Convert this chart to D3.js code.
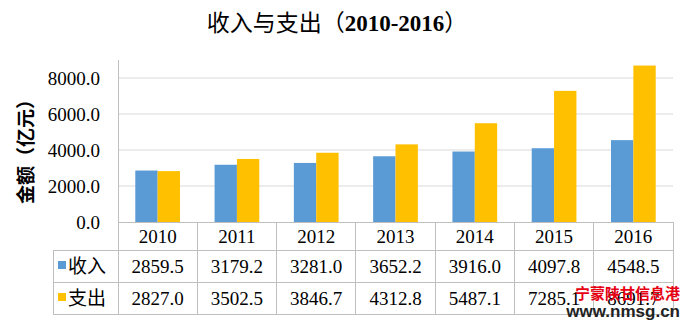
<!DOCTYPE html>
<html>
<head>
<meta charset="utf-8">
<script src="https://cdn.jsdelivr.net/npm/d3@7/dist/d3.min.js"></script>
<style>
  html, body { margin: 0; padding: 0; background: #fff; }
  svg { display: block; }
</style>
</head>
<body>
<svg id="chart" width="686" height="322"></svg>
<script>
// Fiscal income and expenditure, 2010-2016 (亿元)
const years = ["2010", "2011", "2012", "2013", "2014", "2015", "2016"];
const income = [2859.5, 3179.2, 3281.0, 3652.2, 3916.0, 4097.8, 4548.5];
const expense = [2827.0, 3502.5, 3846.7, 4312.8, 5487.1, 7285.1, 8691.7];
const seriesNames = ["收入", "支出"];
const seriesColors = ["#5B9BD5", "#FFC000"];
const yTicks = [0, 2000, 4000, 6000, 8000];

const svg = d3.select("#chart");
const serif = "Liberation Serif";
const cjk = "Noto Sans CJK SC";

const plotLeft = 118, plotRight = 673, plotTop = 60, baseY = 222;
const rowLines = [222, 250, 282, 314];
const tableLeft = 53;

const x = d3.scaleBand().domain(years).range([plotLeft, plotRight]).padding(0);
const y = d3.scaleLinear().domain([0, 9000]).range([baseY, plotTop]);
const barW = x.bandwidth() * 0.282;
const fmt = d3.format(".1f");

// title
svg.append("text")
  .attr("x", 337).attr("y", 31)
  .attr("text-anchor", "middle")
  .attr("font-size", 23)
  .call(t => {
    t.append("tspan").attr("font-family", cjk).text("收入与支出（");
    t.append("tspan").attr("font-family", serif).attr("font-weight", "bold").text("2010-2016");
    t.append("tspan").attr("font-family", cjk).text("）");
  });

// horizontal gridlines
svg.append("g")
  .selectAll("line")
  .data(yTicks.filter(d => d > 0))
  .join("line")
  .attr("x1", plotLeft).attr("x2", plotRight)
  .attr("y1", d => y(d)).attr("y2", d => y(d))
  .attr("stroke", "#d9d9d9").attr("stroke-width", 1);

// y tick labels
svg.append("g")
  .selectAll("text")
  .data(yTicks)
  .join("text")
  .attr("x", plotLeft - 18)
  .attr("y", d => y(d) + 7)
  .attr("text-anchor", "end")
  .attr("font-family", serif).attr("font-size", 19).attr("fill", "#000")
  .text(fmt);

// y axis title
svg.append("text")
  .attr("transform", `translate(33,${(plotTop + baseY) / 2 + 6}) rotate(-90)`)
  .attr("text-anchor", "middle")
  .attr("font-family", cjk).attr("font-weight", "bold").attr("font-size", 19)
  .text("金额（亿元）");

// bars
const series = [income, expense];
series.forEach((vals, si) => {
  svg.append("g")
    .selectAll("rect")
    .data(vals)
    .join("rect")
    .attr("x", (d, i) => x(years[i]) + x.bandwidth() / 2 - barW + si * barW)
    .attr("width", barW)
    .attr("y", d => y(d))
    .attr("height", d => baseY - y(d))
    .attr("fill", seriesColors[si]);
});

// data table grid
const grid = svg.append("g").attr("stroke", "#bfbfbf").attr("stroke-width", 1).attr("shape-rendering", "crispEdges");
grid.append("line").attr("x1", plotLeft).attr("x2", plotRight).attr("y1", rowLines[0]).attr("y2", rowLines[0]);
rowLines.slice(1).forEach(ry => {
  grid.append("line").attr("x1", tableLeft).attr("x2", plotRight).attr("y1", ry).attr("y2", ry);
});
grid.append("line").attr("x1", plotLeft).attr("x2", plotLeft).attr("y1", plotTop).attr("y2", rowLines[3]);
grid.append("line").attr("x1", tableLeft).attr("x2", tableLeft).attr("y1", rowLines[1]).attr("y2", rowLines[3]);
years.forEach(yr => {
  const xr = x(yr) + x.bandwidth();
  grid.append("line").attr("x1", xr).attr("x2", xr).attr("y1", rowLines[0]).attr("y2", rowLines[3]);
});

// header row: years
svg.append("g")
  .selectAll("text")
  .data(years)
  .join("text")
  .attr("x", d => x(d) + x.bandwidth() / 2)
  .attr("y", (rowLines[0] + rowLines[1]) / 2 + 7)
  .attr("text-anchor", "middle")
  .attr("font-family", serif).attr("font-size", 19)
  .text(d => d);

// value rows with legend keys
series.forEach((vals, si) => {
  const cy = (rowLines[si + 1] + rowLines[si + 2]) / 2;
  svg.append("rect")
    .attr("x", 58).attr("y", cy - 5).attr("width", 8).attr("height", 8)
    .attr("fill", seriesColors[si]);
  svg.append("text")
    .attr("x", 68).attr("y", cy + 7)
    .attr("font-family", cjk).attr("font-size", 19)
    .text(seriesNames[si]);
  svg.append("g")
    .selectAll("text")
    .data(vals)
    .join("text")
    .attr("x", (d, i) => x(years[i]) + x.bandwidth() / 2)
    .attr("y", cy + 7)
    .attr("text-anchor", "middle")
    .attr("font-family", serif).attr("font-size", 19)
    .text(fmt);
});

// site mark printed over the lower right corner
svg.append("text")
  .attr("x", 680).attr("y", 299).attr("text-anchor", "end")
  .attr("font-family", cjk).attr("font-weight", "bold").attr("font-size", 15)
  .attr("fill", "#e60012")
  .text("宁蒙陕甘信息港");
svg.append("text")
  .attr("x", 680).attr("y", 317).attr("text-anchor", "end")
  .attr("font-family", "Liberation Sans").attr("font-weight", "bold").attr("font-size", 17)
  .attr("fill", "#222")
  .text("www.nmsg.cn");
</script>
</body>
</html>
